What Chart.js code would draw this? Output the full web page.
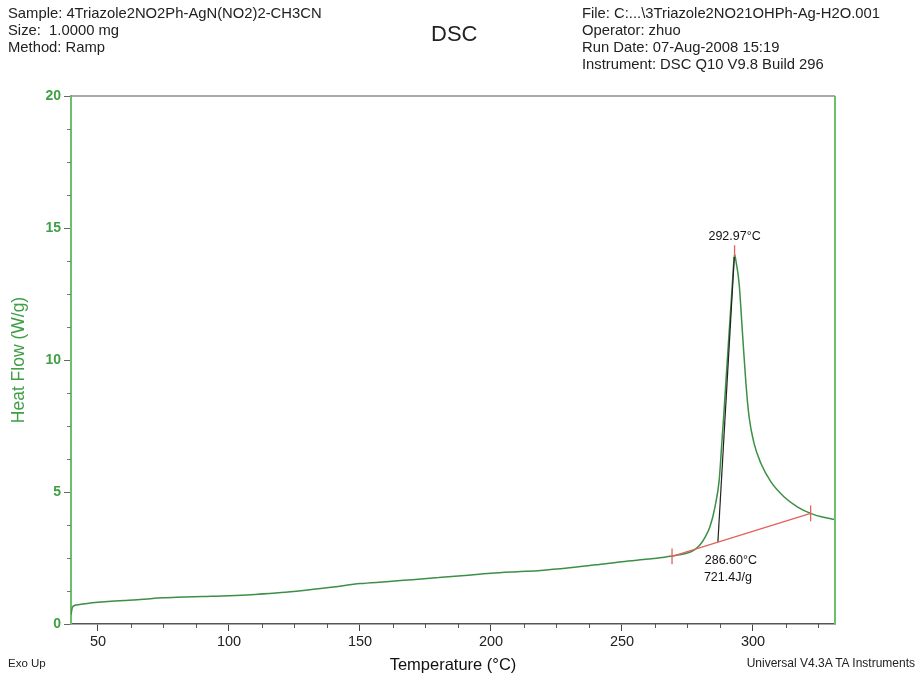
<!DOCTYPE html>
<html><head><meta charset="utf-8">
<script src="https://cdn.jsdelivr.net/npm/chart.js@4.4.1/dist/chart.umd.min.js"></script>
<style>
html,body{margin:0;padding:0;background:#fff;}
#wrap{position:relative;width:919px;height:675px;font-family:"Liberation Sans",Arial,sans-serif;color:#222;overflow:hidden;}
canvas{position:absolute;left:0;top:0;}
.t{position:absolute;font-size:14.8px;line-height:17px;white-space:nowrap;color:#222;}
</style></head><body>
<div id="wrap">
<canvas id="c" width="919" height="675"></canvas>
<div class="t" style="left:8px;top:5px">Sample: 4Triazole2NO2Ph-AgN(NO2)2-CH3CN<br>Size:&nbsp; 1.0000 mg<br>Method: Ramp</div>
<div class="t" style="left:431px;top:21px;font-size:22px;line-height:26px;color:#222">DSC</div>
<div class="t" style="left:582px;top:5px">File: C:...\3Triazole2NO21OHPh-Ag-H2O.001<br>Operator: zhuo<br>Run Date: 07-Aug-2008 15:19<br>Instrument: DSC Q10 V9.8 Build 296</div>
<div class="t" style="left:8px;top:656px;font-size:11.5px;line-height:14px">Exo Up</div>
<div class="t" style="right:4px;top:656px;font-size:12px;line-height:14px">Universal V4.3A TA Instruments</div>
</div>
<script>
// ---- data ----
const temps = [39.7, 40.2, 41, 43, 46, 50, 55, 60, 65, 70, 75, 80, 90, 100, 110, 120, 130, 140, 150, 160, 170, 180, 190, 200, 210, 219, 230, 240, 250, 260, 264.6, 269, 274.7, 277.5, 279.8, 281.8, 283.6, 285.5, 287.1, 288.0, 288.9, 289.7, 290.6, 291.4, 292.2, 292.7, 292.97, 293.5, 294.7, 296.0, 297.3, 298.5, 300.4, 303.0, 306.8, 311.8, 316.9, 322.0, 326.5, 331.3];
const heatFlow = [0.35, 0.62, 0.70, 0.74, 0.78, 0.82, 0.86, 0.89, 0.92, 0.96, 0.99, 1.01, 1.04, 1.07, 1.12, 1.19, 1.29, 1.40, 1.53, 1.60, 1.68, 1.76, 1.84, 1.92, 1.98, 2.03, 2.13, 2.24, 2.36, 2.46, 2.51, 2.58, 2.68, 2.80, 3.00, 3.30, 3.69, 4.44, 5.45, 6.70, 8.00, 9.24, 10.6, 11.8, 13.0, 13.75, 14.0, 13.75, 12.9, 11.0, 9.12, 7.85, 6.84, 6.09, 5.39, 4.82, 4.44, 4.19, 4.05, 3.96];
const baselineT = [269.1, 322.0];
const baselineHF = [2.56, 4.19];
const onsetT = 286.6, onsetHF = 3.10;
const peakT = 292.97, peakHF = 14.0;
const markerHalf = 0.3;
const onsetLabel = "286.60°C";
const enthalpyLabel = "721.4J/g";
const peakLabel = "292.97°C";
const xTicks = [50, 100, 150, 200, 250, 300];
const yTicks = [0, 5, 10, 15, 20];
const xMinorStep = 12.5, yMinorStep = 1.25;
const xRange = [39.7, 331.3], yRange = [0, 20];

const curveGreen = '#3c8f45';
const axisGreen = '#6cbf6c';
const labelGreen = '#3f9f45';
const red = '#e5605c';

const pts = (xs, ys) => xs.map((v, i) => ({x: v, y: ys[i]}));
const markers = [];
baselineT.forEach((t, i) => markers.push({x: t, y: baselineHF[i] - markerHalf}, {x: t, y: baselineHF[i] + markerHalf}, {x: NaN, y: NaN}));
markers.push({x: peakT, y: peakHF - 0.1}, {x: peakT, y: peakHF + 0.35});

const deco = {
  id: 'deco',
  afterDraw(chart) {
    const {ctx, chartArea: a, scales: {x, y}} = chart;
    ctx.save();
    const line = (x1, y1, x2, y2) => { ctx.beginPath(); ctx.moveTo(x1, y1); ctx.lineTo(x2, y2); ctx.stroke(); };
    ctx.strokeStyle = '#8c8c8c'; ctx.lineWidth = 1.5;
    line(a.left, a.top, a.right, a.top);
    ctx.strokeStyle = axisGreen; ctx.lineWidth = 2;
    line(a.right, a.top, a.right, a.bottom);
    ctx.lineWidth = 1;
    ctx.strokeStyle = '#555';
    for (let v = Math.ceil(xRange[0] / xMinorStep) * xMinorStep; v <= xRange[1]; v += xMinorStep) {
      if (xTicks.includes(v)) continue;
      const px = Math.round(x.getPixelForValue(v)) + 0.5;
      line(px, a.bottom, px, a.bottom + 4);
    }
    ctx.strokeStyle = '#777';
    for (let v = yRange[0]; v <= yRange[1]; v += yMinorStep) {
      if (yTicks.includes(v)) continue;
      const py = Math.round(y.getPixelForValue(v)) + 0.5;
      line(a.left - 4, py, a.left, py);
    }
    ctx.fillStyle = '#111';
    ctx.font = '12.5px "Liberation Sans", Arial, sans-serif';
    ctx.textAlign = 'center';
    ctx.textBaseline = 'middle';
    ctx.fillText(peakLabel, x.getPixelForValue(peakT), y.getPixelForValue(peakHF) - 18);
    ctx.fillText(onsetLabel, x.getPixelForValue(onsetT) + 13, y.getPixelForValue(onsetHF) + 18);
    ctx.fillText(enthalpyLabel, x.getPixelForValue(onsetT) + 10, y.getPixelForValue(onsetHF) + 35);
    ctx.restore();
  }
};

new Chart(document.getElementById('c'), {
  type: 'scatter',
  data: {
    datasets: [
      {data: pts(baselineT, baselineHF), showLine: true, borderColor: red, borderWidth: 1.3, pointRadius: 0},
      {data: markers, showLine: true, spanGaps: false, borderColor: red, borderWidth: 1.3, pointRadius: 0},
      {data: [{x: onsetT, y: onsetHF}, {x: peakT - 0.1, y: peakHF - 0.1}], showLine: true, borderColor: '#222', borderWidth: 1.2, pointRadius: 0},
      {data: pts(temps, heatFlow), showLine: true, borderColor: curveGreen, borderWidth: 1.5, pointRadius: 0, cubicInterpolationMode: 'monotone'}
    ]
  },
  options: {
    responsive: false,
    devicePixelRatio: 1,
    animation: false,
    layout: {padding: {top: 96, right: 84, left: 0, bottom: 0}},
    plugins: {legend: {display: false}, tooltip: {enabled: false}},
    scales: {
      x: {
        type: 'linear', position: 'bottom', min: xRange[0], max: xRange[1],
        afterBuildTicks: s => { s.ticks = xTicks.map(v => ({value: v})); },
        afterFit: s => { s.height = 51; },
        ticks: {color: '#222', font: {family: '"Liberation Sans", Arial', size: 14.5}, padding: 2, maxRotation: 0, autoSkip: false},
        grid: {drawOnChartArea: false, drawTicks: true, tickLength: 7, color: '#444', tickWidth: 1},
        border: {color: '#555', width: 1.5},
        title: {display: true, text: 'Temperature (°C)', color: '#111', font: {family: '"Liberation Sans", Arial', size: 16.5}, padding: {top: 4, bottom: 0}}
      },
      y: {
        type: 'linear', position: 'left', min: yRange[0], max: yRange[1],
        afterBuildTicks: s => { s.ticks = yTicks.map(v => ({value: v})); },
        afterFit: s => { s.width = 71; },
        ticks: {color: labelGreen, font: {family: '"Liberation Sans", Arial', size: 14, weight: 'bold'}, padding: 3},
        grid: {drawOnChartArea: false, drawTicks: true, tickLength: 7, color: '#666', tickWidth: 1},
        border: {color: axisGreen, width: 2},
        title: {display: true, text: 'Heat Flow (W/g)', color: labelGreen, font: {family: '"Liberation Sans", Arial', size: 17.5}, padding: {top: 9, bottom: 0}}
      }
    }
  },
  plugins: [deco]
});
</script>
</body></html>
